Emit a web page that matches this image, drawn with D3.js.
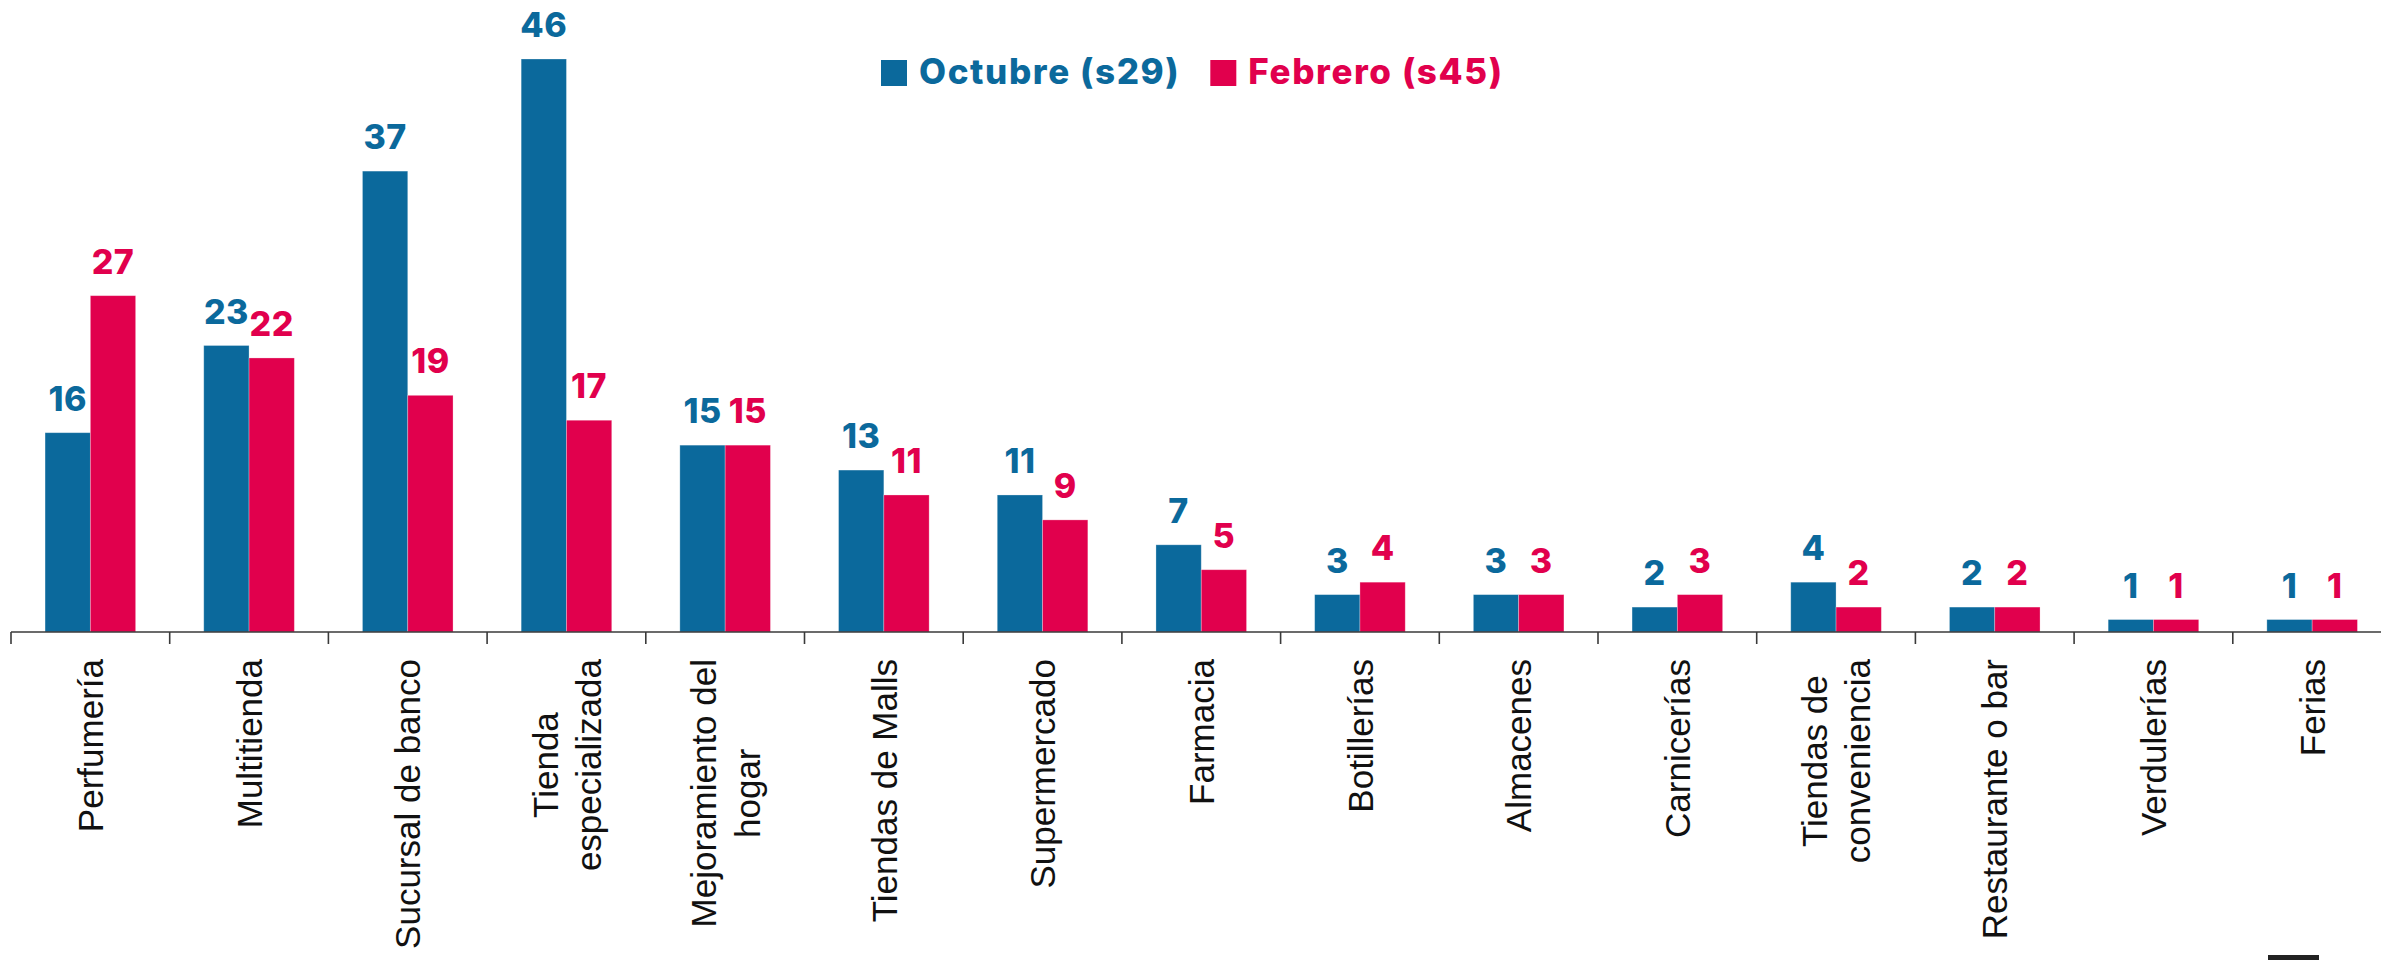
<!DOCTYPE html>
<html>
<head>
<meta charset="utf-8">
<script src="https://cdn.jsdelivr.net/npm/d3@7"></script>
<style>
  html, body { margin: 0; padding: 0; background: #fff; overflow: hidden; }
  svg { display: block; }
</style>
</head>
<body>
<div id="chart"></div>
<script>
'use strict'
// data
var categories = [
  'Perfumería',
  'Multitienda',
  'Sucursal de banco',
  'Tienda\nespecializada',
  'Mejoramiento del\nhogar',
  'Tiendas de Malls',
  'Supermercado',
  'Farmacia',
  'Botillerías',
  'Almacenes',
  'Carnicerías',
  'Tiendas de\nconveniencia',
  'Restaurante o bar',
  'Verdulerías',
  'Ferias'
]
var octubre = [16, 23, 37, 46, 15, 13, 11, 7, 3, 3, 2, 4, 2, 1, 1]
var febrero = [27, 22, 19, 17, 15, 11, 9, 5, 4, 3, 3, 2, 2, 1, 1]
var seriesNames = ['Octubre (s29)', 'Febrero (s45)']
var seriesColors = ['#0b699c', '#e1004d']

var W = 2381, H = 960
var baseY = 632
var step = 158.7
var left = 11

var svg = d3.select('#chart').append('svg')
  .attr('width', W)
  .attr('height', H)

var x0 = d3.scaleBand()
  .domain(categories)
  .range([left, left + step * categories.length])
  .padding(0)

var x1 = d3.scaleBand()
  .domain([0, 1])
  .range([0, x0.bandwidth()])
  .paddingInner(0)
  .paddingOuter(0.752)

var y = d3.scaleLinear()
  .domain([0, 46])
  .range([baseY, 59])

var rows = categories.map((c, i) => ({cat: c, vals: [octubre[i], febrero[i]]}))

// bars
var groups = svg.append('g').selectAll('g')
  .data(rows)
  .join('g')
  .attr('transform', d => `translate(${x0(d.cat)},0)`)

groups.selectAll('rect')
  .data(d => d.vals.map((v, k) => ({k: k, v: v})))
  .join('rect')
  .attr('x', d => x1(d.k))
  .attr('y', d => y(d.v))
  .attr('width', x1.bandwidth())
  .attr('height', d => baseY - y(d.v))
  .attr('fill', d => seriesColors[d.k])
  .attr('stroke', 'rgba(255,255,255,0.35)')
  .attr('stroke-width', 0.8)

// value labels
groups.selectAll('text.val')
  .data(d => d.vals.map((v, k) => ({k: k, v: v})))
  .join('text')
  .attr('class', 'val')
  .attr('x', d => x1(d.k) + x1.bandwidth() / 2)
  .attr('y', d => y(d.v) - 22)
  .attr('text-anchor', 'middle')
  .attr('font-family', 'Inter, "Open Sans", sans-serif')
  .attr('font-weight', 800)
  .attr('font-size', 34)
  .attr('letter-spacing', 0.5)
  .attr('fill', d => seriesColors[d.k])
  .text(d => d.v)

// x axis
var axis = svg.append('g')
axis.append('line')
  .attr('x1', left).attr('x2', W)
  .attr('y1', baseY).attr('y2', baseY)
  .attr('stroke', '#3a3a3a')
  .attr('stroke-width', 1.6)
axis.selectAll('line.tick')
  .data(categories)
  .join('line')
  .attr('class', 'tick')
  .attr('x1', d => x0(d)).attr('x2', d => x0(d))
  .attr('y1', baseY).attr('y2', baseY + 12)
  .attr('stroke', '#3a3a3a')
  .attr('stroke-width', 1.6)

// category labels, rotated, lines centred on each other
var lineH = 43.3
var labelTop = 659
axis.selectAll('g.lab')
  .data(categories)
  .join('g')
  .attr('class', 'lab')
  .each(function (d) {
    var lines = d.split('\n')
    var cx = x0(d) + x0.bandwidth() / 2
    var g = d3.select(this)
    var texts = lines.map((ln, i) => g.append('text')
      .attr('font-family', '"Liberation Sans", Arial, sans-serif')
      .attr('font-size', 35)
      .attr('fill', '#111')
      .attr('text-anchor', 'middle')
      .text(ln))
    var maxLen = d3.max(texts, t => t.node().getComputedTextLength())
    var mid = labelTop + maxLen / 2
    texts.forEach((t, i) => {
      var bx = cx + 12.7 + (i - (lines.length - 1) / 2) * lineH
      t.attr('transform', `translate(${bx},${mid}) rotate(-90)`)
    })
  })

// legend
var legend = svg.append('g')
var lx = 881
seriesNames.forEach((name, k) => {
  legend.append('rect')
    .attr('x', lx).attr('y', 60)
    .attr('width', 26).attr('height', 26)
    .attr('fill', seriesColors[k])
  var t = legend.append('text')
    .attr('x', lx + 38)
    .attr('y', 83.5)
    .attr('font-family', 'Inter, "Open Sans", sans-serif')
    .attr('font-weight', 800)
    .attr('font-size', 35)
    .attr('letter-spacing', 1.6)
    .attr('fill', seriesColors[k])
    .text(name)
  lx = lx + 38 + t.node().getComputedTextLength() + 30
})

// small cut-off mark at the bottom right
svg.append('rect')
  .attr('x', 2268).attr('y', 955)
  .attr('width', 51).attr('height', 5)
  .attr('fill', '#222')
</script>
</body>
</html>
